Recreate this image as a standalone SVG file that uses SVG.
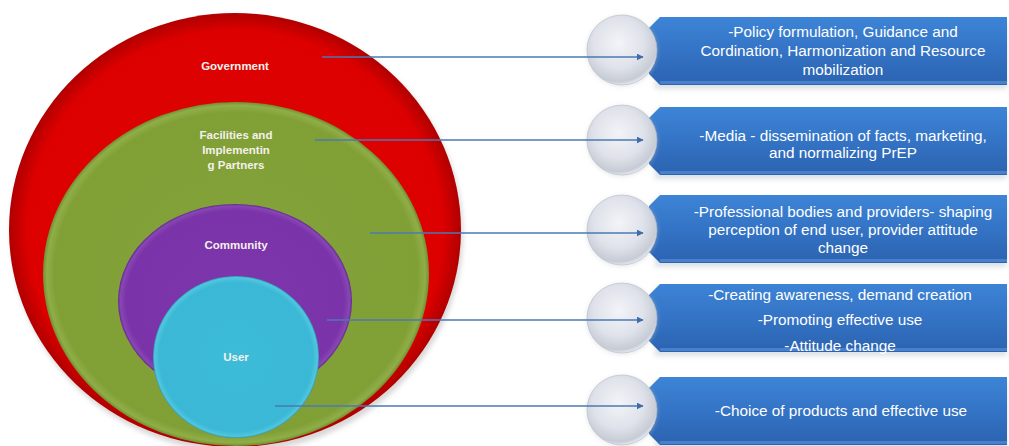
<svg xmlns="http://www.w3.org/2000/svg" width="1009" height="446" viewBox="0 0 1009 446">
  <style>
    .lbl { font-family: "Liberation Sans", Arial, sans-serif; font-weight: bold; font-size: 11.5px; fill: #f4f0ec; text-anchor: middle; }
    .txt { font-family: "Liberation Sans", Arial, sans-serif; font-size: 15.3px; fill: #ffffff; text-anchor: middle; }
    .conn { stroke: #4d78b2; stroke-width: 1.3; fill: none; marker-end: url(#arrow); }
    .box { fill: url(#boxFill); }
    .boxEdge { fill: #5c93dc; }
    .bullet { fill: url(#bulletFill); stroke: #b4bac4; stroke-width: 0.6; }
  </style>
  <defs>
    <radialGradient id="redFill" cx="50%" cy="50%" r="50%">
      <stop offset="0" stop-color="#e00606"/>
      <stop offset="0.92" stop-color="#dc0000"/>
      <stop offset="1" stop-color="#b00000"/>
    </radialGradient>
    <radialGradient id="greenFill" cx="50%" cy="50%" r="50%">
      <stop offset="0" stop-color="#84a23a"/>
      <stop offset="0.94" stop-color="#80a036"/>
      <stop offset="0.98" stop-color="#90ae48"/>
      <stop offset="1" stop-color="#728f2e"/>
    </radialGradient>
    <radialGradient id="purpleFill" cx="50%" cy="50%" r="50%">
      <stop offset="0" stop-color="#7d36ac"/>
      <stop offset="0.93" stop-color="#7a33a8"/>
      <stop offset="0.98" stop-color="#8747b4"/>
      <stop offset="1" stop-color="#64288e"/>
    </radialGradient>
    <radialGradient id="cyanFill" cx="50%" cy="50%" r="50%">
      <stop offset="0" stop-color="#3dbcd9"/>
      <stop offset="0.92" stop-color="#3ab8d6"/>
      <stop offset="0.98" stop-color="#52c6df"/>
      <stop offset="1" stop-color="#2d9ab6"/>
    </radialGradient>
    <radialGradient id="bulletFill" cx="45%" cy="40%" r="60%">
      <stop offset="0" stop-color="#f3f4f8"/>
      <stop offset="0.6" stop-color="#dfe2ea"/>
      <stop offset="0.92" stop-color="#c6cbd5"/>
      <stop offset="1" stop-color="#e4e7ed"/>
    </radialGradient>
    <linearGradient id="boxFill" x1="0" y1="0" x2="0" y2="1">
      <stop offset="0" stop-color="#3d84d6"/>
      <stop offset="0.5" stop-color="#3473c5"/>
      <stop offset="1" stop-color="#2b63b0"/>
    </linearGradient>
    <filter id="soft" x="-10%" y="-10%" width="120%" height="130%">
      <feGaussianBlur stdDeviation="2.5"/>
    </filter>
    <marker id="arrow" viewBox="0 0 10 10" refX="9" refY="5" markerWidth="7" markerHeight="7" markerUnits="userSpaceOnUse" orient="auto">
      <path d="M0,0 L10,5 L0,10 Z" fill="#3f6ca8"/>
    </marker>
  </defs>

  <rect width="1009" height="446" fill="#ffffff"/>

  <!-- nested circles -->
  <g id="government">
    <ellipse cx="237" cy="234" rx="226" ry="218" fill="#b0b0b0" opacity="0.5" filter="url(#soft)"/>
    <ellipse cx="235" cy="230" rx="226" ry="217" fill="url(#redFill)"/>
    <text class="lbl" x="235" y="70">Government</text>
  </g>
  <g id="facilities">
    <ellipse cx="236" cy="274" rx="193" ry="172" fill="url(#greenFill)"/>
    <text class="lbl" x="236" y="139">Facilities and</text>
    <text class="lbl" x="236" y="154">Implementin</text>
    <text class="lbl" x="236" y="169">g Partners</text>
  </g>
  <g id="community">
    <ellipse cx="235" cy="301" rx="117" ry="97" fill="url(#purpleFill)"/>
    <text class="lbl" x="236" y="249">Community</text>
  </g>
  <g id="user">
    <ellipse cx="236" cy="357" rx="83" ry="81" fill="url(#cyanFill)"/>
    <text class="lbl" x="236" y="361">User</text>
  </g>

  <!-- role boxes -->
  <g id="role-government">
    <rect x="655" y="21" width="352" height="68" fill="#c8ccd4" opacity="0.6" filter="url(#soft)"/>
    <path class="box" d="M660,17 L1007,17 L1007,85 L660,85 L649,74 L649,28 Z"/>
    <rect class="boxEdge" x="660" y="81" width="347" height="3" opacity="0.6"/>
    <circle cx="622" cy="51" r="35" fill="#c0c4cc" opacity="0.5" filter="url(#soft)"/>
    <circle class="bullet" cx="622" cy="50" r="35"/>
    <text class="txt" x="843" y="37">-Policy formulation, Guidance and</text>
    <text class="txt" x="843" y="56">Cordination, Harmonization and Resource</text>
    <text class="txt" x="843" y="75">mobilization</text>
  </g>
  <g id="role-facilities">
    <rect x="655" y="111" width="352" height="68" fill="#c8ccd4" opacity="0.6" filter="url(#soft)"/>
    <path class="box" d="M660,107 L1007,107 L1007,175 L660,175 L649,164 L649,118 Z"/>
    <rect class="boxEdge" x="660" y="171" width="347" height="3" opacity="0.6"/>
    <circle cx="622" cy="141" r="35" fill="#c0c4cc" opacity="0.5" filter="url(#soft)"/>
    <circle class="bullet" cx="622" cy="140" r="35"/>
    <text class="txt" x="843" y="141">-Media - dissemination of facts, marketing,</text>
    <text class="txt" x="843" y="158">and normalizing PrEP</text>
  </g>
  <g id="role-professionals">
    <rect x="655" y="199" width="352" height="68" fill="#c8ccd4" opacity="0.6" filter="url(#soft)"/>
    <path class="box" d="M660,195 L1007,195 L1007,263 L660,263 L649,252 L649,206 Z"/>
    <rect class="boxEdge" x="660" y="259" width="347" height="3" opacity="0.6"/>
    <circle cx="622" cy="231" r="35" fill="#c0c4cc" opacity="0.5" filter="url(#soft)"/>
    <circle class="bullet" cx="622" cy="230" r="35"/>
    <text class="txt" x="843" y="217">-Professional bodies and providers- shaping</text>
    <text class="txt" x="843" y="235">perception of end user, provider attitude</text>
    <text class="txt" x="843" y="253">change</text>
  </g>
  <g id="role-community">
    <rect x="655" y="288" width="352" height="68" fill="#c8ccd4" opacity="0.6" filter="url(#soft)"/>
    <path class="box" d="M660,284 L1007,284 L1007,352 L660,352 L649,341 L649,295 Z"/>
    <rect class="boxEdge" x="660" y="348" width="347" height="3" opacity="0.6"/>
    <circle cx="622" cy="319" r="35" fill="#c0c4cc" opacity="0.5" filter="url(#soft)"/>
    <circle class="bullet" cx="622" cy="318" r="35"/>
    <text class="txt" x="840" y="300">-Creating awareness, demand creation</text>
    <text class="txt" x="840" y="325">-Promoting effective use</text>
    <text class="txt" x="840" y="351">-Attitude change</text>
  </g>
  <g id="role-user">
    <rect x="655" y="381" width="352" height="68" fill="#c8ccd4" opacity="0.6" filter="url(#soft)"/>
    <path class="box" d="M660,377 L1007,377 L1007,445 L660,445 L649,434 L649,388 Z"/>
    <rect class="boxEdge" x="660" y="441" width="347" height="3" opacity="0.6"/>
    <circle cx="622" cy="411" r="35" fill="#c0c4cc" opacity="0.5" filter="url(#soft)"/>
    <circle class="bullet" cx="622" cy="410" r="35"/>
    <text class="txt" x="841" y="416">-Choice of products and effective use</text>
  </g>

  <!-- connectors -->
  <g id="connectors">
    <line class="conn" x1="322" y1="57" x2="643" y2="57"/>
    <line class="conn" x1="315" y1="140" x2="643" y2="140"/>
    <line class="conn" x1="370" y1="233" x2="643" y2="233"/>
    <line class="conn" x1="327" y1="320" x2="643" y2="320"/>
    <line class="conn" x1="275" y1="406" x2="643" y2="406"/>
  </g>
</svg>
